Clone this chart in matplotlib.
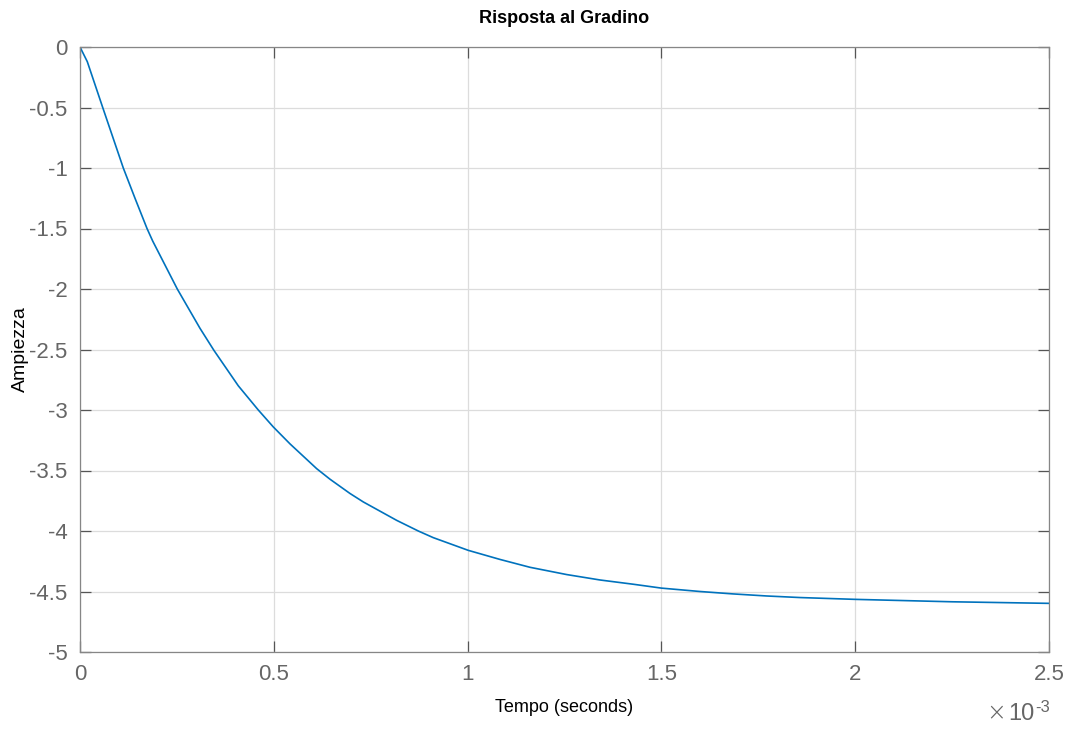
import matplotlib.pyplot as plt
from matplotlib.ticker import FuncFormatter

# dati (tempo in ms, ampiezza)
tempo_ms = [0.0, 0.0188, 0.0586, 0.1117, 0.1419, 0.1729, 0.1876, 0.251, 0.3096,
            0.3457, 0.4084, 0.460, 0.4987, 0.5418, 0.6107, 0.645, 0.6966, 0.731,
            0.817, 0.8728, 0.9115, 1.0018, 1.0836, 1.161, 1.2556, 1.342, 1.4275,
            1.5, 1.5996, 1.685, 1.7716, 1.858, 2.0, 2.25, 2.5]
ampiezza = [0.0, -0.121, -0.5, -1.0, -1.25, -1.5, -1.604, -2.0, -2.325,
            -2.508, -2.80, -3.0, -3.14, -3.28, -3.485, -3.572, -3.69, -3.76,
            -3.912, -4.0, -4.055, -4.16, -4.235, -4.30, -4.36, -4.405, -4.44,
            -4.472, -4.50, -4.52, -4.537, -4.55, -4.565, -4.585, -4.598]
xticks = [0, 0.5, 1, 1.5, 2, 2.5]
yticks = [0, -0.5, -1, -1.5, -2, -2.5, -3, -3.5, -4, -4.5, -5]

tempo = [t * 1e-3 for t in tempo_ms]

plt.rcParams['font.family'] = ['Liberation Sans', 'DejaVu Sans']
grigio = '#666666'

fig = plt.figure(figsize=(10.72, 7.31), dpi=100)
ax = fig.add_axes([80 / 1072, 79 / 731, 969 / 1072, 605 / 731])

ax.plot(tempo, ampiezza, color='#0072BD', lw=1.2)

ax.set_xlim(0, 2.5e-3)
ax.set_ylim(-5, 0)
ax.set_xticks([x * 1e-3 for x in xticks])
ax.xaxis.set_major_formatter(FuncFormatter(lambda v, p: '%g' % round(v * 1e3, 3)))
ax.set_yticks(yticks)
ax.yaxis.set_major_formatter(FuncFormatter(lambda v, p: '%g' % v))

ax.grid(True, color='#dcdcdc', lw=0.9)
ax.set_axisbelow(True)
ax.tick_params(direction='in', length=8, width=0.9, color='#555555',
               labelcolor=grigio, labelsize=16, top=True, right=True, pad=9)
for s in ax.spines.values():
    s.set_color('#868686')
    s.set_linewidth(0.9)

ax.set_title('Risposta al Gradino', fontsize=13, fontweight='bold', pad=17)
ax.set_xlabel('Tempo (seconds)', fontsize=13, labelpad=10)
ax.set_ylabel('Ampiezza', fontsize=14, labelpad=0)

# moltiplicatore dell'asse x come in MATLAB
fig.text(1006 / 1072, 7 / 731, '\u00d7', ha='right', va='bottom',
         fontsize=17, color=grigio, family='DejaVu Sans', fontweight='light')
fig.text(1035 / 1072, 6 / 731, '10', ha='right', va='bottom',
         fontsize=17, color=grigio)
fig.text(1035 / 1072, 16 / 731, '-3', ha='left', va='bottom',
         fontsize=12, color=grigio)

fig.savefig('out.png', dpi=100, facecolor='white')
